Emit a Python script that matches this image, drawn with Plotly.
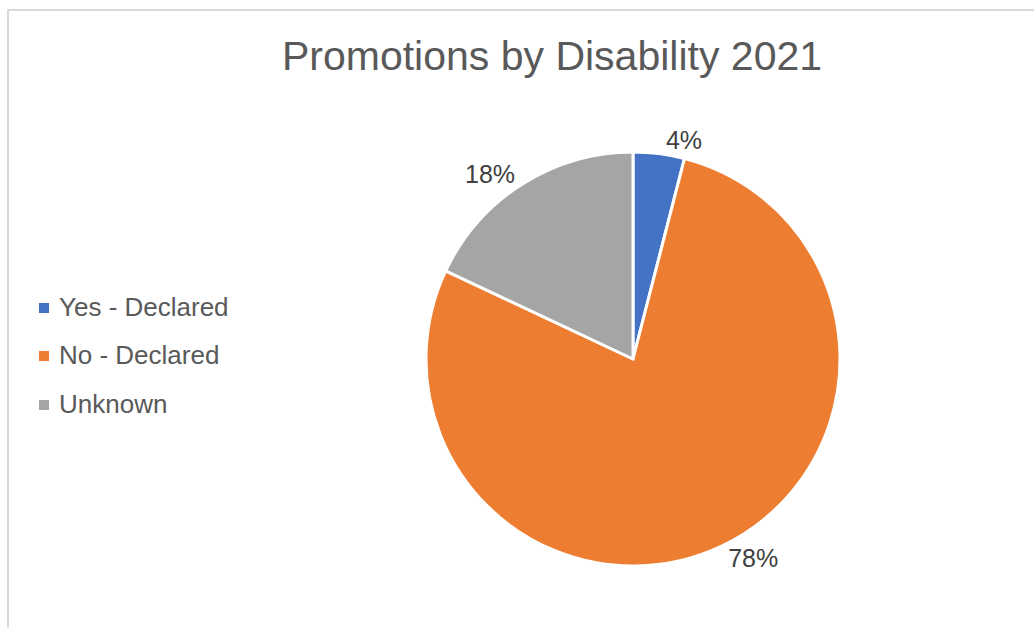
import plotly.graph_objects as go

# Promotions by disability status, 2021 (share of promotions, %)
categories = ["Yes - Declared", "No - Declared", "Unknown"]
shares = [4, 78, 18]
colors = ["#4472C4", "#ED7D31", "#A5A5A5"]

W, H = 1034, 628
FONT = "Liberation Sans, Arial, Helvetica, sans-serif"

fig = go.Figure(
    go.Pie(
        labels=categories,
        values=shares,
        marker=dict(colors=colors, line=dict(color="white", width=3)),
        sort=False,
        direction="clockwise",
        rotation=0,
        textposition="outside",
        texttemplate="%{percent:.0%}",
        textfont=dict(family=FONT, size=25, color="#404040"),
        hoverinfo="label+percent",
        showlegend=False,
        domain=dict(x=[426 / W, 840 / W], y=[1 - 566 / H, 1 - 152 / H]),
    )
)

# chart frame (top and left edges visible)
fig.add_shape(type="rect", xref="paper", yref="paper",
              x0=8 / W, x1=1.05, y0=-0.05, y1=1 - 10 / H,
              line=dict(color="#D9D9D9", width=2), fillcolor="rgba(0,0,0,0)",
              layer="below")

# legend: small squares with category names
legend_y = [307, 355, 404]
for name, col, yy in zip(categories, colors, legend_y):
    fig.add_shape(type="rect", xref="paper", yref="paper",
                  x0=39 / W, x1=49 / W,
                  y0=1 - (yy + 6) / H, y1=1 - (yy - 4) / H,
                  line=dict(width=0), fillcolor=col)
    fig.add_annotation(x=57 / W, y=1 - yy / H, xref="paper", yref="paper",
                       text=name, showarrow=False, xanchor="left", yanchor="middle",
                       font=dict(family=FONT, size=26, color="#595959"))

fig.update_layout(
    width=W, height=H,
    margin=dict(l=0, r=0, t=0, b=0),
    paper_bgcolor="white",
    plot_bgcolor="white",
    title=dict(text="Promotions by Disability 2021", x=552 / W, xanchor="center",
               y=1 - 56 / H, yanchor="middle",
               font=dict(family=FONT, size=41, color="#595959")),
)

fig.write_html("out.html")
